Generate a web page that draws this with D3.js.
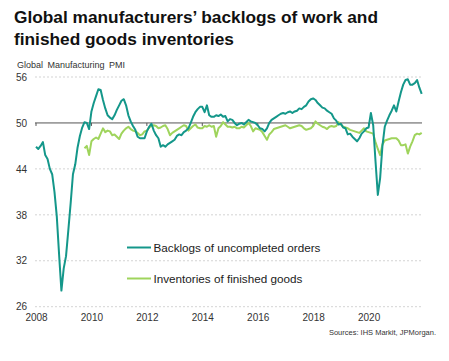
<!DOCTYPE html>
<html><head><meta charset="utf-8">
<script src="https://cdn.jsdelivr.net/npm/d3@7"></script>
<style>
html,body{margin:0;padding:0;background:#fff;}
svg{display:block;font-family:"Liberation Sans",Arial,sans-serif;}
</style></head>
<body><svg id="chart" width="449" height="361"></svg>
<script>
const titleLines = ["Global manufacturers\u2019 backlogs of work and", "finished goods inventories"];
const subtitle = "Global Manufacturing PMI";
const source = "Sources: IHS Markit, JPMorgan.";
const seriesNames = ["Backlogs of uncompleted orders", "Inventories of finished goods"];
const startYear = 2008;
const yTicks = [26, 32, 38, 44, 50, 56];
const xTickYears = [2008, 2010, 2012, 2014, 2016, 2018, 2020];

// Monthly, Jan 2008 - Dec 2021
const backlogs = [
  46.9, 46.6, 47.0, 47.5, 45.8, 45.3, 44.0, 43.3, 41.0, 37.8, 32.8, 28.1,
  31.0, 32.6, 36.0, 39.5, 43.3, 44.6, 46.8, 48.3, 49.4, 50.1, 50.0, 49.2,
  51.5, 52.6, 53.5, 54.4, 54.3, 53.0, 51.9, 51.0, 50.7, 50.5, 51.0, 51.7,
  52.3, 52.9, 53.1, 52.3, 51.0, 50.2, 49.6, 49.1, 48.2, 48.0, 48.0, 48.0,
  48.9, 49.5, 49.9, 49.0, 48.4, 48.0, 46.9, 47.1, 46.9, 47.2, 47.4, 47.6,
  47.8, 48.3, 48.5, 48.4, 48.8, 49.0, 49.3, 50.0, 50.8, 51.4, 51.8, 52.1,
  52.1, 51.4, 52.3, 51.0, 50.8, 50.8, 51.0, 50.9, 51.1, 50.8, 50.9, 50.2,
  50.5, 50.4, 50.0, 49.7, 49.9, 50.0, 49.8, 50.1, 50.4, 50.2, 50.1, 50.0,
  49.7, 49.3, 49.2, 48.9, 49.3, 50.0, 50.4, 50.6, 50.8, 51.0, 51.2, 51.3,
  51.2, 51.4, 51.5, 51.3, 51.5, 51.6, 51.9, 51.8, 52.1, 52.3, 52.8, 53.1,
  53.2, 53.0, 52.6, 52.3, 52.0, 51.9, 51.6, 51.4, 51.2, 50.6, 50.3, 49.8,
  49.9, 49.4, 49.3, 48.5, 48.6, 48.2, 47.9, 47.6, 48.0, 48.6, 48.9, 49.3,
  49.4, 51.3, 49.7, 45.0, 40.6, 42.8, 47.0, 49.5, 50.3, 51.0, 51.6, 52.3,
  51.5, 52.8, 54.0, 55.0, 55.6, 55.7, 55.0, 55.0, 55.2, 55.6, 54.6, 53.8
];
// Monthly, Oct 2009 - Dec 2021
const inventoriesStartMonth = 21; // months after Jan 2008
const inventories = [
  46.7, 47.0, 45.8,
  47.6, 47.9, 48.1, 47.9, 48.6, 49.3, 48.8, 49.0, 48.9, 48.4, 48.5, 48.2,
  47.9, 48.6, 49.0, 49.3, 49.5, 49.2, 49.0, 48.9, 48.7, 48.4, 48.5, 48.9,
  49.0, 49.4, 49.6, 49.7, 49.6, 49.3, 49.4, 49.6, 49.7, 49.2, 48.4, 48.7,
  48.9, 49.1, 49.3, 49.5, 49.7, 49.6, 49.0, 49.3, 49.6, 49.8, 49.4, 49.3,
  49.3, 49.6, 49.5, 49.7, 49.5, 49.6, 48.2, 49.3, 49.6, 50.1, 49.8, 49.5,
  49.5, 49.4, 49.5, 49.3, 49.3, 49.5, 49.4, 49.7, 50.0, 49.6, 48.9, 49.3,
  49.2, 49.1, 48.8, 48.3, 47.8, 48.5, 48.8, 49.2, 49.3, 49.4, 49.5, 49.6,
  49.7, 49.5, 49.3, 49.4, 49.5, 49.6, 49.7, 49.6, 49.3, 49.1, 49.2, 49.3,
  49.6, 50.2, 49.9, 49.7, 49.5, 49.4, 49.2, 49.5, 49.6, 49.5, 49.6, 50.1,
  49.8, 49.5, 49.4, 49.3, 49.1, 49.0, 48.9, 48.8, 48.7, 49.0, 49.3, 48.9,
  48.8, 48.7, 48.6, 47.5, 46.6, 45.8, 47.2, 47.7, 47.8, 47.9, 48.0, 48.0,
  48.0, 47.7, 47.1, 47.1, 47.2, 46.0, 46.9, 47.6, 48.4, 48.6, 48.5, 48.7
];
const colors = ["#14978a", "#9fd45c"];

const svg = d3.select("#chart");
const x = d3.scaleLinear().domain([0, backlogs.length - 1]).range([36, 421.7]);
const y = d3.scaleLinear().domain([26, 56]).range([306.7, 77]);

// Title
svg.append("g").selectAll("text").data(titleLines).join("text")
  .attr("x", 14).attr("y", (d, i) => 23 + i * 22)
  .attr("font-size", 17.3).attr("font-weight", "bold").attr("fill", "#111")
  .text(d => d);
svg.append("text").attr("x", 17).attr("y", 68).attr("font-size", 9)
  .attr("word-spacing", 2).attr("fill", "#333").text(subtitle);

// Gridlines
svg.append("g").selectAll("line").data(yTicks.filter(v => v !== 50)).join("line")
  .attr("x1", 35).attr("x2", 422).attr("y1", d => y(d)).attr("y2", d => y(d))
  .attr("stroke", "#c8c8c8").attr("stroke-width", 0.8).attr("stroke-dasharray", "2,2");

// Y axis labels
const yAxis = d3.axisLeft(y).tickValues(yTicks).tickSize(0).tickPadding(0);
const yg = svg.append("g").attr("transform", "translate(27,0)").call(yAxis);
yg.select(".domain").remove();
yg.selectAll("text").attr("font-size", 10).attr("fill", "#333")
  .attr("font-family", "Liberation Sans, Arial, sans-serif");

// X axis labels
const xTickIdx = xTickYears.map(yr => (yr - startYear) * 12);
const xAxis = d3.axisBottom(x).tickValues(xTickIdx)
  .tickFormat(i => String(startYear + i / 12)).tickSize(0).tickPadding(0);
const xg = svg.append("g").attr("transform", "translate(0,314)").call(xAxis);
xg.select(".domain").remove();
xg.selectAll("text").attr("font-size", 10).attr("fill", "#333")
  .attr("font-family", "Liberation Sans, Arial, sans-serif");

// Baseline 50 with small ticks
svg.append("line").attr("x1", 35).attr("x2", 422).attr("y1", y(50)).attr("y2", y(50))
  .attr("stroke", "#555").attr("stroke-width", 1);
svg.append("g").selectAll("line").data(xTickIdx).join("line")
  .attr("x1", d => x(d)).attr("x2", d => x(d)).attr("y1", y(50)).attr("y2", y(50) + 3)
  .attr("stroke", "#555").attr("stroke-width", 1);

// Lines
const line = d3.line().x(d => x(d.i)).y(d => y(d.v));
const invData = inventories.map((v, k) => ({i: k + inventoriesStartMonth, v}));
const backData = backlogs.map((v, i) => ({i, v}));
svg.append("path").datum(invData).attr("d", line).attr("fill", "none")
  .attr("stroke", colors[1]).attr("stroke-width", 2).attr("stroke-linejoin", "round");
svg.append("path").datum(backData).attr("d", line).attr("fill", "none")
  .attr("stroke", colors[0]).attr("stroke-width", 2).attr("stroke-linejoin", "round");

// Legend
const legY = [247.5, 278.5];
const lg = svg.append("g");
seriesNames.forEach((n, i) => {
  lg.append("line").attr("x1", 127).attr("x2", 151).attr("y1", legY[i]).attr("y2", legY[i])
    .attr("stroke", colors[i]).attr("stroke-width", 2);
  lg.append("text").attr("x", 153.5).attr("y", legY[i]).attr("dy", "0.35em")
    .attr("font-size", 11.7).attr("fill", "#222").text(n);
});

// Source
svg.append("text").attr("x", 436).attr("y", 335).attr("text-anchor", "end")
  .attr("font-size", 7.5).attr("fill", "#333").text(source);
</script>
</body></html>
